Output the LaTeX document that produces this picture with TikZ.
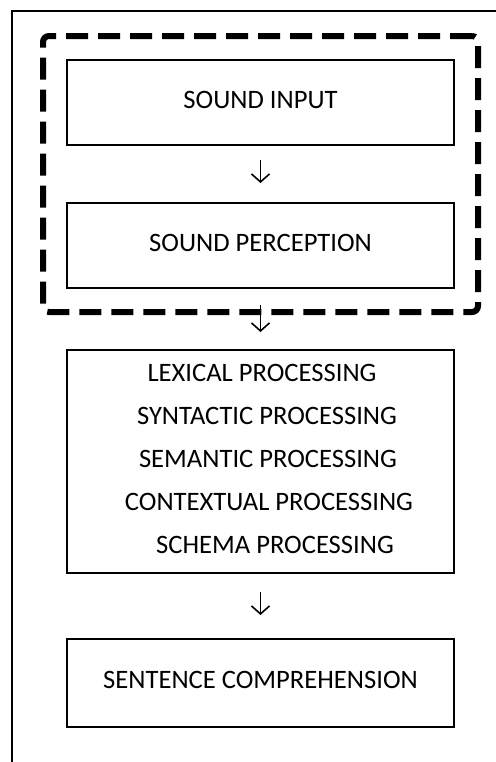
\documentclass[tikz,border=0pt]{standalone}
\usepackage{fontspec}
\setmainfont{Carlito}
\usetikzlibrary{positioning, fit, arrows.meta}

\begin{document}
\begin{tikzpicture}[x=0.5pt, y=-0.5pt, font=\fontsize{13.3}{21.5}\selectfont,
	stage/.style={rectangle, draw, line width=1pt, outer sep=0pt, inner sep=0pt, minimum width=193.5pt, align=center, text depth=3pt},
	flow/.style={line width=0.8pt, -{Straight Barb[length=4pt, width=9pt]}}]
	\useasboundingbox (0,0) rectangle (495,762);
	\draw[line width=1pt] (12,780) -- (12,11) -- (510,11);
	\node (input) [stage, minimum height=42.5pt] at (260.5,102.5) {SOUND INPUT};
	\node (percept) [stage, minimum height=42.5pt, below=29pt of input] {SOUND PERCEPTION};
	\node (hearing) [fit=(input)(percept), draw, line width=3pt, dash pattern=on 11pt off 5pt, rounded corners=3pt, inner sep=12pt] {};
	\node (proc) [stage, minimum height=111.5pt, below=31pt of percept] {\hspace*{1.5pt}LEXICAL PROCESSING\\ \hspace*{6.5pt}SYNTACTIC PROCESSING\\ \hspace*{7.5pt}SEMANTIC PROCESSING\\ \hspace*{8.5pt}CONTEXTUAL PROCESSING\\ \hspace*{14.5pt}SCHEMA PROCESSING};
	\node (compr) [stage, minimum height=44pt, below=33pt of proc] {SENTENCE COMPREHENSION};
	\path[flow] (input) edge[shorten <=7.5pt, shorten >=10pt] (percept)
	            (percept) edge[shorten <=8.5pt, shorten >=9pt] (proc)
	            (proc) edge[shorten <=9.5pt, shorten >=12pt] (compr);
\end{tikzpicture}
\end{document}
